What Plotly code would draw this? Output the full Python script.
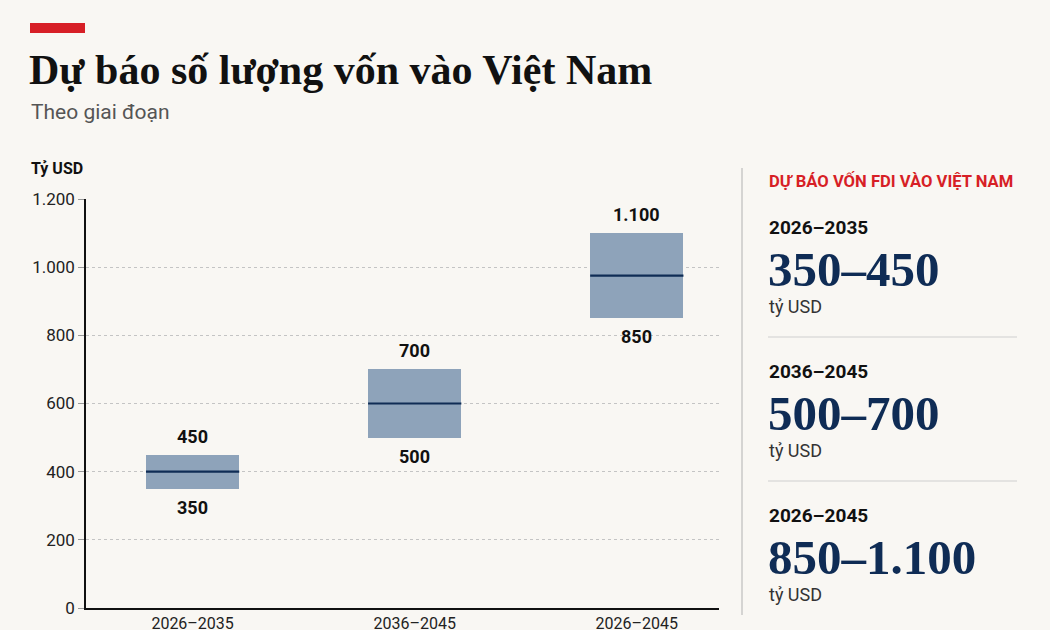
import plotly.graph_objects as go

# ---- data ----
periods = ["2026–2035", "2036–2045", "2026–2045"]
low = [350, 500, 850]
high = [450, 700, 1100]
y_ticks = [0, 200, 400, 600, 800, 1000, 1200]
y_tick_labels = ["0", "200", "400", "600", "800", "1.000", "1.200"]

title = "Dự báo số lượng vốn vào Việt Nam"
subtitle = "Theo giai đoạn"
unit = "Tỷ USD"
panel_title = "DỰ BÁO VỐN FDI VÀO VIỆT NAM"
panel_unit = "tỷ USD"

W, H = 1050, 630
BG = "#f9f7f3"
BOX = "#8ea3ba"
NAVY = "#0f2c55"
RED = "#d71f26"
SANS = "Roboto, 'Noto Sans', Arial, sans-serif"
SERIF = "'Liberation Serif', 'DejaVu Serif', serif"


def fmt(v):
    return f"{v:,}".replace(",", ".")


def px(x):
    return x / W


def py(y):
    return 1 - y / H


xs = list(range(len(periods)))
mid = [(a + b) / 2 for a, b in zip(low, high)]
bw = 0.42

fig = go.Figure()
fig.add_trace(go.Bar(
    x=xs, y=[h - l for l, h in zip(low, high)], base=low, width=bw,
    marker=dict(color=BOX, line=dict(width=0)), hoverinfo="skip", showlegend=False,
))
# median lines
lx, ly = [], []
for i, m in zip(xs, mid):
    lx += [i - bw / 2, i + bw / 2, None]
    ly += [m, m, None]
fig.add_trace(go.Scatter(x=lx, y=ly, mode="lines", line=dict(color=NAVY, width=2.2),
                         hoverinfo="skip", showlegend=False))

annotations = []
for i, l, h in zip(xs, low, high):
    annotations.append(dict(x=i, y=h, xref="x", yref="y", text=f"<b>{fmt(h)}</b>",
                            showarrow=False, yanchor="bottom", yshift=6,
                            font=dict(family=SANS, size=18, color="#111")))
    annotations.append(dict(x=i, y=l, xref="x", yref="y", text=f"<b>{fmt(l)}</b>",
                            showarrow=False, yanchor="top", yshift=-6,
                            font=dict(family=SANS, size=18, color="#111")))

# header
annotations += [
    dict(x=px(27), y=py(70), xref="paper", yref="paper", xanchor="left", yanchor="middle",
         text=f"<b>{title}</b>", showarrow=False,
         font=dict(family=SERIF, size=42, color="#111")),
    dict(x=px(29), y=py(112), xref="paper", yref="paper", xanchor="left", yanchor="middle",
         text=subtitle, showarrow=False, font=dict(family=SANS, size=21, color="#555")),
    dict(x=px(29), y=py(169), xref="paper", yref="paper", xanchor="left", yanchor="middle",
         text=f"<b>{unit}</b>", showarrow=False, font=dict(family=SANS, size=16, color="#111")),
    dict(x=px(767), y=py(181), xref="paper", yref="paper", xanchor="left", yanchor="middle",
         text=f"<b>{panel_title}</b>", showarrow=False,
         font=dict(family=SANS, size=16.6, color=RED)),
]

shapes = [
    dict(type="rect", xref="paper", yref="paper", x0=px(30), x1=px(85), y0=py(23), y1=py(33),
         fillcolor=RED, line=dict(width=0)),
    dict(type="line", xref="paper", yref="paper", x0=px(742), x1=px(742), y0=py(168), y1=py(615),
         line=dict(color="#bdbdbd", width=1.2)),
]

block_top = [227, 371, 515]
for k, (p, l, h) in enumerate(zip(periods, low, high)):
    t = block_top[k]
    annotations += [
        dict(x=px(767), y=py(t), xref="paper", yref="paper", xanchor="left", yanchor="middle",
             text=f"<b>{p}</b>", showarrow=False, font=dict(family=SANS, size=19, color="#111")),
        dict(x=px(766), y=py(t + 42), xref="paper", yref="paper", xanchor="left", yanchor="middle",
             text=f"<b>{fmt(l)}–{fmt(h)}</b>", showarrow=False,
             font=dict(family=SERIF, size=49, color=NAVY)),
        dict(x=px(767), y=py(t + 79), xref="paper", yref="paper", xanchor="left", yanchor="middle",
             text=panel_unit, showarrow=False, font=dict(family=SANS, size=18, color="#333")),
    ]
    if k < len(periods) - 1:
        shapes.append(dict(type="line", xref="paper", yref="paper", x0=px(768), x1=px(1017),
                           y0=py(t + 110), y1=py(t + 110),
                           line=dict(color="#cfcfcf", width=1.2)))

fig.update_layout(
    width=W, height=H, margin=dict(l=0, r=0, t=0, b=0),
    paper_bgcolor=BG, plot_bgcolor=BG,
    annotations=annotations, shapes=shapes, bargap=0,
    xaxis=dict(domain=[px(86), px(719)], range=[-0.48, 2.37], tickvals=xs, ticktext=periods,
               showgrid=False, zeroline=False, showline=True, linecolor="#111", linewidth=1.5,
               ticks="", tickfont=dict(family=SANS, size=16, color="#222"), automargin=False,
               fixedrange=True),
    yaxis=dict(domain=[py(608), py(199)], range=[0, 1200], tickvals=y_ticks,
               ticktext=y_tick_labels, showgrid=True, gridcolor="#c4c4c4", griddash="dot",
               gridwidth=1, zeroline=False, showline=True, linecolor="#111", linewidth=1.5,
               ticks="outside", ticklen=6, tickcolor="#999",
               tickfont=dict(family=SANS, size=17, color="#222"), automargin=False,
               fixedrange=True),
)

fig.write_html("out.html")
